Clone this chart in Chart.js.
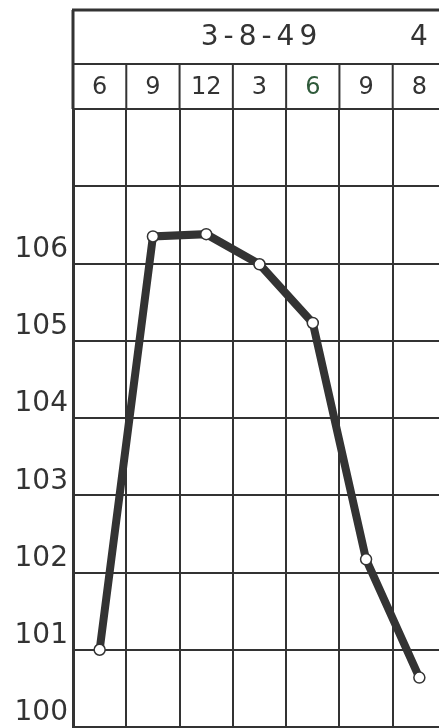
<!DOCTYPE html>
<html>
<head>
<meta charset="utf-8">
<script src="https://cdn.jsdelivr.net/npm/chart.js@4"></script>
<style>
  html, body { margin: 0; padding: 0; background: #fff; overflow: hidden; }
  canvas { display: block; }
</style>
</head>
<body>
<canvas id="tempChart" width="460" height="734"></canvas>
<script>
// chart data
const hours = ['6', '9', '12', '3', '6', '9', '8'];
const dateLabels = ['', '', '', '3-8-49', '', '', '4'];
const temps = [101.0, 106.35, 106.38, 105.99, 105.23, 102.17, 100.64];
const tempTicks = ['100', '101', '102', '103', '104', '105', '106'];

const ink = '#333333';

// draws the two header rows (date + hour) above the grid
const headerPlugin = {
  id: 'header',
  afterDraw(chart) {
    const { ctx, chartArea, scales } = chart;
    const x = scales.x;
    const left = chartArea.left;
    const right = chart.width;
    const top = 10, mid = 64, bottom = chartArea.top;
    const half = (x.getPixelForValue(1) - x.getPixelForValue(0)) / 2;

    ctx.save();
    ctx.strokeStyle = ink;
    ctx.lineCap = 'butt';

    ctx.lineWidth = 3;
    ctx.beginPath();
    ctx.moveTo(left - 1, top);
    ctx.lineTo(right, top);
    ctx.moveTo(left, top);
    ctx.lineTo(left, bottom);
    ctx.stroke();

    ctx.lineWidth = 2;
    ctx.beginPath();
    ctx.moveTo(left, mid);
    ctx.lineTo(right, mid);
    for (let i = 1; i < hours.length + 1; i++) {
      const bx = x.getPixelForValue(i) - half;
      ctx.moveTo(bx, mid);
      ctx.lineTo(bx, bottom);
    }
    ctx.stroke();

    ctx.textAlign = 'center';
    ctx.textBaseline = 'middle';

    ctx.fillStyle = ink;
    ctx.font = '28px "DejaVu Sans"';
    ctx.letterSpacing = '5px';
    dateLabels.forEach((t, i) => {
      if (t) ctx.fillText(t, x.getPixelForValue(i) + 2, (top + mid) / 2 + 1);
    });

    ctx.letterSpacing = '0px';
    ctx.font = '24px "DejaVu Sans"';
    hours.forEach((h, i) => {
      ctx.fillStyle = i === 4 ? '#2f5a3a' : ink;
      ctx.fillText(h, x.getPixelForValue(i), (mid + bottom) / 2 + 1);
    });
    ctx.restore();
  }
};

new Chart(document.getElementById('tempChart'), {
  type: 'line',
  data: {
    labels: hours.map((h, i) => i + ':' + h),
    datasets: [{
      label: 'Temperature',
      data: temps,
      borderColor: ink,
      borderWidth: 8,
      tension: 0,
      pointRadius: 5.5,
      pointBackgroundColor: '#ffffff',
      pointBorderColor: ink,
      pointBorderWidth: 1.5
    }]
  },
  options: {
    responsive: false,
    animation: false,
    layout: {
      padding: { top: 109, right: 14, bottom: 0, left: 0 }
    },
    plugins: {
      legend: { display: false },
      tooltip: { enabled: false }
    },
    scales: {
      x: {
        offset: true,
        grid: {
          offset: true,
          color: ink,
          lineWidth: 2,
          drawTicks: false
        },
        border: { display: false },
        ticks: { display: false },
        afterFit(scale) { scale.height = 0; }
      },
      y: {
        min: 100,
        max: 108,
        grid: {
          color: ink,
          lineWidth: 2,
          drawTicks: false
        },
        border: { display: true, color: ink, width: 3 },
        ticks: {
          stepSize: 1,
          padding: 5,
          labelOffset: -14,
          color: ink,
          font: { family: 'DejaVu Sans', size: 28 },
          callback: v => tempTicks.includes(String(v)) ? String(v) : ''
        },
        afterFit(scale) {
          scale.width = 73;
          scale.paddingTop = 0;
          scale.paddingBottom = 0;
        }
      }
    }
  },
  plugins: [headerPlugin]
});
</script>
</body>
</html>
